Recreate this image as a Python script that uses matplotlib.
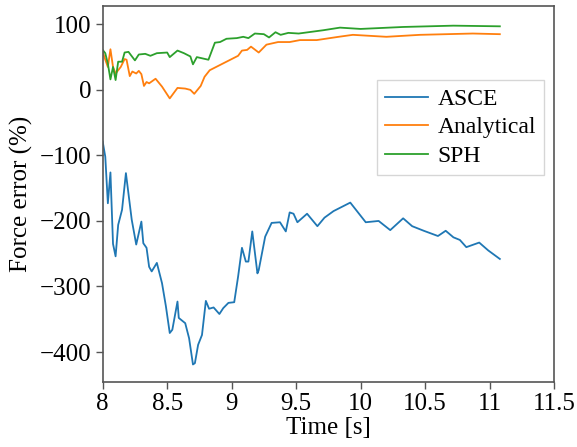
import matplotlib
matplotlib.use("Agg")
import matplotlib.pyplot as plt

plt.rcParams['font.family'] = ['Liberation Serif', 'DejaVu Serif']
plt.rcParams['mathtext.fontset'] = 'stix'

asce_t = [8.00, 8.02, 8.04, 8.06, 8.08, 8.10, 8.12, 8.15, 8.18, 8.225, 8.26, 8.30, 8.315, 8.34,
          8.36, 8.38, 8.42, 8.46, 8.49, 8.52, 8.54, 8.58, 8.59, 8.64, 8.67, 8.70, 8.715, 8.74,
          8.77, 8.80, 8.825, 8.86, 8.905, 8.935, 8.975, 9.02, 9.05, 9.08, 9.11, 9.13, 9.16,
          9.20, 9.21, 9.26, 9.31, 9.375, 9.42, 9.45, 9.48, 9.51, 9.585, 9.665, 9.72, 9.79,
          9.85, 9.92, 10.04, 10.14, 10.23, 10.33, 10.40, 10.49, 10.60, 10.66, 10.72, 10.77,
          10.82, 10.92, 10.99, 11.08]
asce_v = [-79, -102, -173, -126, -235, -254, -206, -183, -127, -198, -236, -201, -234, -241,
          -270, -277, -264, -295, -330, -371, -366, -323, -348, -356, -379, -419, -417, -389,
          -374, -322, -334, -332, -342, -333, -325, -324, -285, -241, -262, -262, -216,
          -280, -275, -224, -203, -202, -216, -187, -189, -202, -189, -208, -195, -185,
          -179, -172, -202, -200, -214, -196, -208, -215, -223, -215, -225, -229,
          -240, -233, -245, -258]

ana_t = [8.00, 8.02, 8.04, 8.06, 8.08, 8.10, 8.14, 8.17, 8.185, 8.21, 8.23, 8.26, 8.28, 8.30,
         8.32, 8.34, 8.36, 8.41, 8.46, 8.52, 8.58, 8.64, 8.68, 8.71, 8.76, 8.79, 8.83, 8.88,
         8.99, 9.05, 9.08, 9.12, 9.15, 9.21, 9.27, 9.36, 9.45, 9.53, 9.66, 9.83, 9.94, 10.2,
         10.46, 10.87, 11.08]
ana_v = [58, 46, 35, 62, 35, 25, 35, 47, 46, 21, 28, 25, 29, 24,
         6, 12, 10, 17, 5, -13, 3, 2, 0, -6, 6, 20, 30, 35,
         46, 52, 60, 61, 66, 57, 69, 73, 73, 76, 76, 81, 84, 81,
         84, 86, 85]

sph_t = [8.00, 8.02, 8.04, 8.06, 8.08, 8.10, 8.12, 8.15, 8.17, 8.20, 8.25, 8.28, 8.33, 8.37,
         8.42, 8.50, 8.52, 8.58, 8.63, 8.68, 8.70, 8.73, 8.82, 8.87, 8.91, 8.96, 9.04, 9.09,
         9.13, 9.18, 9.25, 9.29, 9.34, 9.38, 9.44, 9.52, 9.71, 9.84, 10.0, 10.33, 10.72, 11.08]
sph_v = [61, 56, 40, 16, 35, 15, 43, 43, 57, 58, 45, 54, 55, 52,
         56, 57, 50, 60, 56, 51, 39, 50, 46, 72, 73, 78, 79, 81,
         79, 86, 85, 80, 88, 84, 87, 86, 91, 95, 93, 96, 98, 97]

xticks = [8, 8.5, 9, 9.5, 10, 10.5, 11, 11.5]
xtick_labels = ['8', '8.5', '9', '9.5', '10', '10.5', '11', '11.5']
yticks = [-400, -300, -200, -100, 0, 100]
ytick_labels = ['\u2212400', '\u2212300', '\u2212200', '\u2212100', '0', '100']

fig = plt.figure(figsize=(5.77, 4.47), dpi=100)
ax = fig.add_axes([102.7/577, 1-381.5/447, 451.3/577, 375.5/447])

lw = 1.3
ax.plot(asce_t, asce_v, color='#1f77b4', lw=lw, label='ASCE')
ax.plot(ana_t, ana_v, color='#ff7f0e', lw=lw, label='Analytical')
ax.plot(sph_t, sph_v, color='#2ca02c', lw=lw, label='SPH')

ax.set_xlim(8, 11.5)
ax.set_ylim(-445, 128)
ax.set_xticks(xticks)
ax.set_xticklabels(xtick_labels)
ax.set_yticks(yticks)
ax.set_yticklabels(ytick_labels)
ax.tick_params(labelsize=18, length=5, width=1, color='#555555', pad=3)
for s in ax.spines.values():
    s.set_color('#555555')
    s.set_linewidth(1.2)
ax.set_xlabel('Time [s]', fontsize=18, labelpad=2)
ax.set_ylabel('Force error (%)', fontsize=18, labelpad=5)

leg = ax.legend(loc='upper right', bbox_to_anchor=(0.978, 0.803), fontsize=17,
                fancybox=False, edgecolor='#cccccc', handlelength=1.8,
                handletextpad=0.4, borderpad=0.35, labelspacing=0.3,
                borderaxespad=0)
leg.get_frame().set_linewidth(1.0)

fig.savefig('out.png', dpi=100)
